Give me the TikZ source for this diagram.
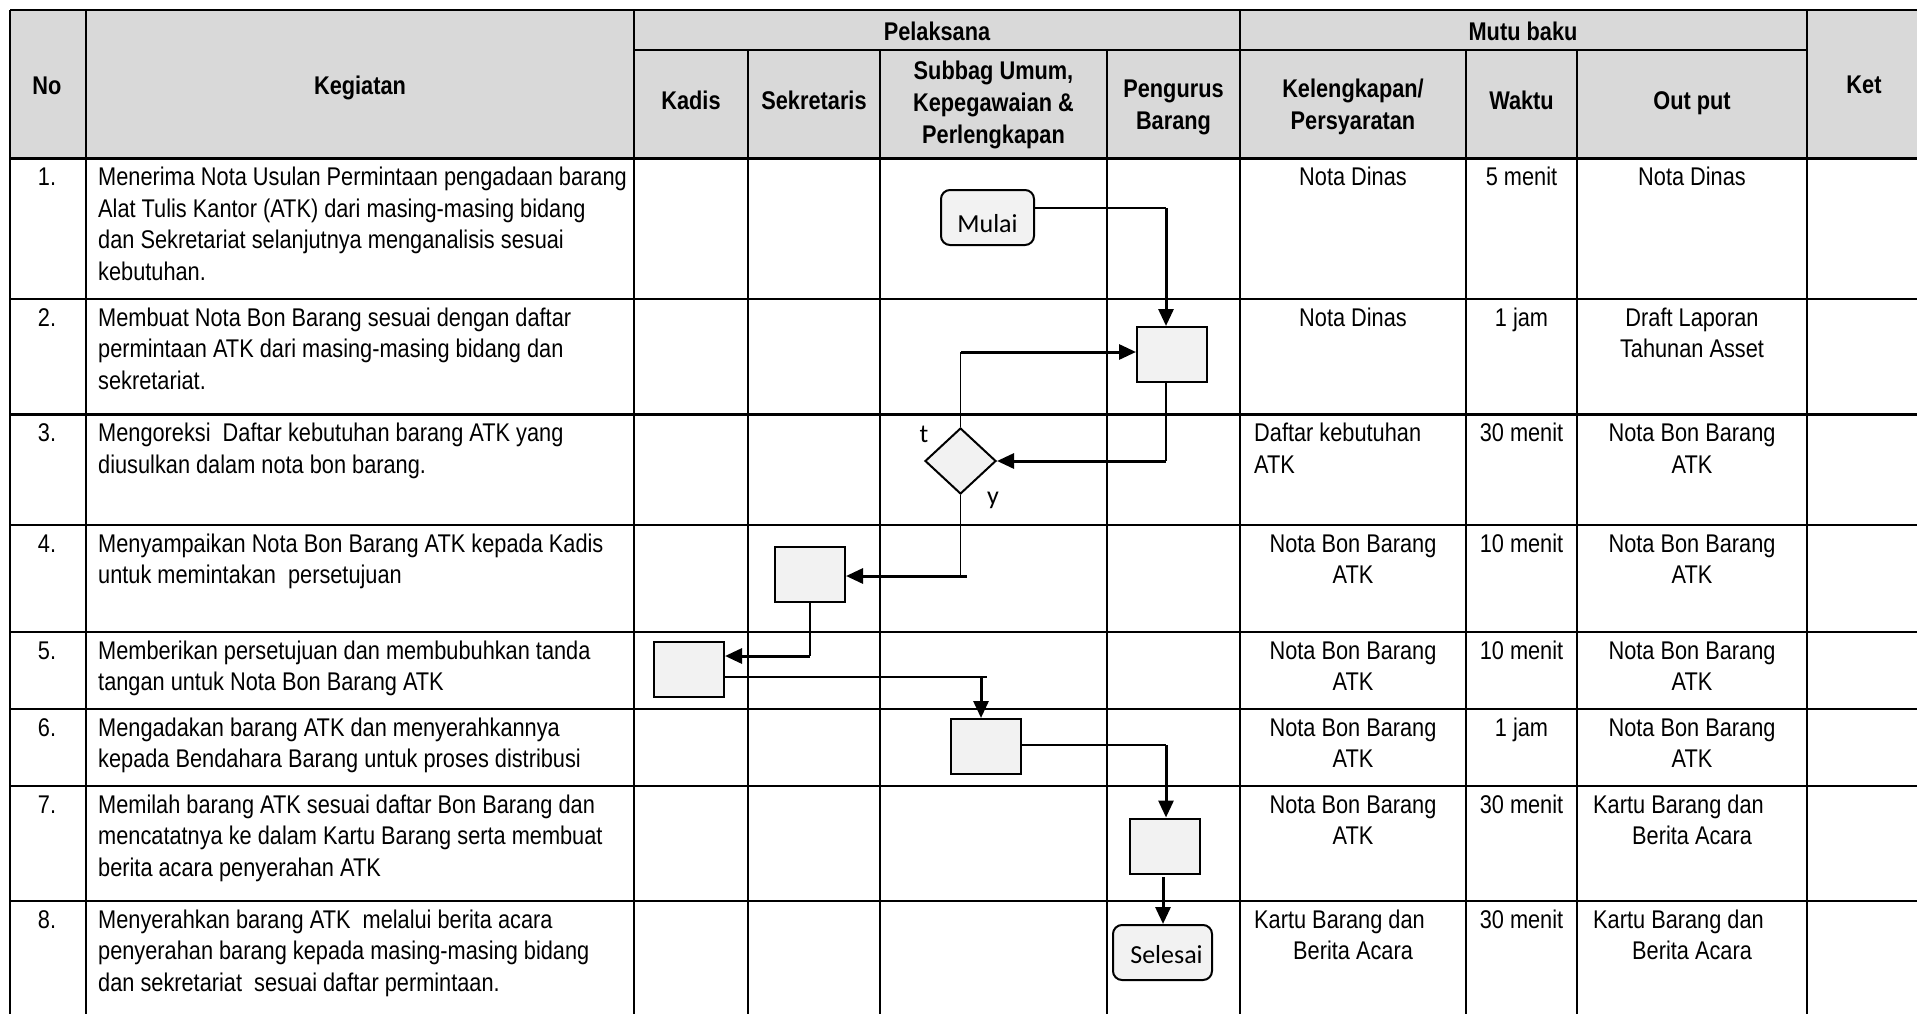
\documentclass[tikz,border=0pt]{standalone}
\usepackage{fontspec}
\setmainfont{Liberation Sans}[FakeStretch=0.85]
\newfontfamily\calib{Carlito}
\usetikzlibrary{arrows.meta,shapes.geometric,calc}
\definecolor{hdrfill}{HTML}{D9D9D9}
\definecolor{boxfill}{HTML}{F2F2F2}
\begin{document}
\begin{tikzpicture}[x=1pt,y=-1pt,
  gridln/.style={line width=2.6pt},
  tx/.style={inner sep=0pt, font=\fontsize{25.6}{31.7}\selectfont},
  txl/.style={tx, anchor=base west, align=left},
  txc/.style={tx, anchor=base, align=center},
  hd/.style={txc, font=\bfseries\fontsize{25.6}{31.7}\selectfont},
  proc/.style={draw, line width=2pt, fill=boxfill, minimum width=70pt, minimum height=55pt, inner sep=0pt},
  term/.style={draw, line width=2pt, fill=boxfill, rounded corners=9pt, minimum height=55pt, inner sep=0pt, text depth=0pt, font=\calib\fontsize{26}{30}\selectfont},
  dec/.style={diamond, draw, line width=2pt, fill=boxfill, minimum width=71pt, minimum height=66pt, inner sep=0pt},
  lbl/.style={inner sep=0pt, font=\calib\fontsize{26}{30}\selectfont},
  thinln/.style={line width=1.4pt},
  arr/.style={line width=3pt, -{Triangle[length=17pt,width=15pt]}}
]
\path[use as bounding box] (0,0) rectangle (1917,1014);
% header fill
\fill[hdrfill] (10,10) rectangle (1917,158.5);
% horizontal lines
\draw[gridln] (10,10) -- (1917,10);
\draw[gridln] (634,50) -- (1807,50);
\foreach \yy in {158.5,299,414.5,525,632,709,786,901}
  \draw[gridln] (10,\yy) -- (1917,\yy);
% vertical lines
\foreach \xx in {10,86,634,1240,1807}
  \draw[gridln] (\xx,10) -- (\xx,1014);
\foreach \xx in {748,880,1107,1466,1577}
  \draw[gridln] (\xx,50) -- (\xx,1014);
% header text (anchor base = last line baseline)
\node[hd] (hNo) at (47,95) {No};
\node[hd] (hKeg) at (360,95) {Kegiatan};
\node[hd] (hPel) at (937,41) {Pelaksana};
\node[hd] (hMutu) at (1523,41) {Mutu baku};
\node[hd] (hKet) at (1864,94) {Ket};
\node[hd] (hKadis) at (691,110) {Kadis};
\node[hd] (hSek) at (814,110) {Sekretaris};
\node[hd] (hSub) at (993.5,143.4) {Subbag Umum,\\Kepegawaian \&\\Perlengkapan};
\node[hd] (hPen) at (1173.5,129.7) {Pengurus\\Barang};
\node[hd] (hKel) at (1353,129.7) {Kelengkapan/\\Persyaratan};
\node[hd] (hWak) at (1521.5,110) {Waktu};
\node[hd] (hOut) at (1692,110) {Out put};
% numbers
\node[txc] (n1) at (47,185.5) {1.};
\node[txc] (n2) at (47,326) {2.};
\node[txc] (n3) at (47,441.5) {3.};
\node[txc] (n4) at (47,552) {4.};
\node[txc] (n5) at (47,659) {5.};
\node[txc] (n6) at (47,736) {6.};
\node[txc] (n7) at (47,813) {7.};
\node[txc] (n8) at (47,928) {8.};
% kegiatan
\node[txl] (g1) at (98,280.6) {Menerima Nota Usulan Permintaan pengadaan barang\\Alat Tulis Kantor (ATK) dari masing-masing bidang\\dan Sekretariat selanjutnya menganalisis sesuai\\kebutuhan.};
\node[txl] (g2) at (98,389.4) {Membuat Nota Bon Barang sesuai dengan daftar\\permintaan ATK dari masing-masing bidang dan\\sekretariat.};
\node[txl] (g3) at (98,473.2) {Mengoreksi\ \ Daftar kebutuhan barang ATK yang\\diusulkan dalam nota bon barang.};
\node[txl] (g4) at (98,583.7) {Menyampaikan Nota Bon Barang ATK kepada Kadis\\untuk memintakan\ \ persetujuan};
\node[txl] (g5) at (98,690.7) {Memberikan persetujuan dan membubuhkan tanda\\tangan untuk Nota Bon Barang ATK};
\node[txl] (g6) at (98,767.7) {Mengadakan barang ATK dan menyerahkannya\\kepada Bendahara Barang untuk proses distribusi};
\node[txl] (g7) at (98,876.4) {Memilah barang ATK sesuai daftar Bon Barang dan\\mencatatnya ke dalam Kartu Barang serta membuat\\berita acara penyerahan ATK};
\node[txl] (g8) at (98,991.4) {Menyerahkan barang ATK\ \ melalui berita acara\\penyerahan barang kepada masing-masing bidang\\dan sekretariat\ \ sesuai daftar permintaan.};
% kelengkapan
\node[txc] (k1) at (1353,185.5) {Nota Dinas};
\node[txc] (k2) at (1353,326) {Nota Dinas};
\node[txl] (k3) at (1254,473.2) {Daftar kebutuhan\\ATK};
\node[txc] (k4) at (1353,583.7) {Nota Bon Barang\\ATK};
\node[txc] (k5) at (1353,690.7) {Nota Bon Barang\\ATK};
\node[txc] (k6) at (1353,767.7) {Nota Bon Barang\\ATK};
\node[txc] (k7) at (1353,844.7) {Nota Bon Barang\\ATK};
\node[txl] (k8a) at (1254,928) {Kartu Barang dan};
\node[txc] (k8b) at (1353,959.7) {Berita Acara};
% waktu
\node[txc] (w1) at (1521.5,185.5) {5 menit};
\node[txc] (w2) at (1521.5,326) {1 jam};
\node[txc] (w3) at (1521.5,441.5) {30 menit};
\node[txc] (w4) at (1521.5,552) {10 menit};
\node[txc] (w5) at (1521.5,659) {10 menit};
\node[txc] (w6) at (1521.5,736) {1 jam};
\node[txc] (w7) at (1521.5,813) {30 menit};
\node[txc] (w8) at (1521.5,928) {30 menit};
% output
\node[txc] (o1) at (1692,185.5) {Nota Dinas};
\node[txc] (o2) at (1692,357.7) {Draft Laporan\\Tahunan Asset};
\node[txc] (o3) at (1692,473.2) {Nota Bon Barang\\ATK};
\node[txc] (o4) at (1692,583.7) {Nota Bon Barang\\ATK};
\node[txc] (o5) at (1692,690.7) {Nota Bon Barang\\ATK};
\node[txc] (o6) at (1692,767.7) {Nota Bon Barang\\ATK};
\node[txl] (o7a) at (1593,813) {Kartu Barang dan};
\node[txc] (o7b) at (1692,844.7) {Berita Acara};
\node[txl] (o8a) at (1593,928) {Kartu Barang dan};
\node[txc] (o8b) at (1692,959.7) {Berita Acara};
% flowchart shapes
\node[term, minimum width=93pt, text height=29pt] (Mulai) at (987.5,217.5) {Mulai};
\node[proc] (A) at (1172,354.5) {};
\node[dec] (D) at (960.5,461) {};
\node[proc] (B) at (810,574.5) {};
\node[proc] (C) at (689,669) {};
\node[proc] (Dbox) at (986,746.5) {};
\node[proc] (E) at (1165,846) {};
\node[term, minimum width=99pt, text height=21pt] (Sel) at (1162.5,952.5) {\hspace*{8pt}Selesai};
\node[lbl] (lt) at (924,434) {t};
\node[lbl] (ly) at (993,500) {y};
% connectors
\coordinate (c1) at (1166,208);
\draw[thinln] (Mulai.east |- c1) -- (c1);
\draw[arr] (c1) -- (c1 |- A.north);
\coordinate (c2) at (960.5,352);
\draw[thinln] (D.north) -- (c2);
\draw[arr] (c2) -- (c2 -| A.west);
\coordinate (c3) at (1166,461);
\draw[thinln] (c1 |- A.south) -- (c3);
\draw[arr] (c3) -- (D.east);
\coordinate (c4) at (960.5,576);
\coordinate (c4r) at (967,576);
\draw[thinln] (D.south) -- (c4);
\draw[arr] (c4r) -- (c4 -| B.east);
\coordinate (c5) at (810,656);
\draw[thinln] (B.south) -- (c5);
\draw[arr] (c5) -- (c5 -| C.east);
\coordinate (c6) at (987,677);
\coordinate (c6b) at (981,677);
\draw[thinln] (C.east |- c6) -- (c6);
\draw[arr] (c6b) -- (c6b |- Dbox.north);
\coordinate (c7) at (1166,745);
\draw[thinln] (Dbox.east |- c7) -- (c7);
\draw[arr] (c7) -- (c7 |- E.north);
\coordinate (c8) at (1163,877);
\draw[arr] (c8) -- (c8 |- Sel.north);
\end{tikzpicture}
\end{document}
